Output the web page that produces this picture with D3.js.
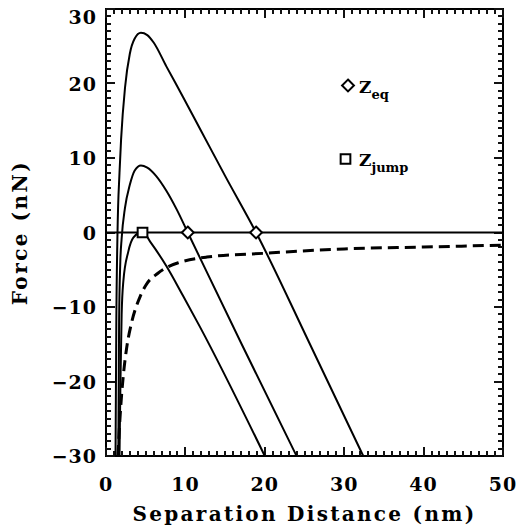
<!DOCTYPE html>
<html>
<head>
<meta charset="utf-8">
<script src="https://cdn.jsdelivr.net/npm/d3@7"></script>
</head>
<body style="margin:0">
<script>
// values (x in nm, force in nN)
const curveA = [[1.2,-30],[1.3,-12],[1.45,0],[1.7,8],[1.9,12.5],[2.4,19.5],[3.0,24],[3.6,26],[4.4,26.8],[5.2,26.5],[6.0,25.5],[7.6,22.3],[9.7,18.2],[12,13.6],[15,7.6],[18.9,0],[25.6,-14.8],[32.4,-30]];
const curveB = [[1.55,-30],[1.65,-12],[1.8,-4],[1.97,-0.8],[2.39,3.3],[3.0,6.4],[3.6,8.3],[4.4,9.0],[5.2,8.7],[6.3,7.6],[7.6,5.6],[8.9,3.1],[10.3,0],[17,-14.8],[24,-30]];
const curveC = [[1.7,-30],[1.82,-20],[1.97,-11],[2.18,-6.6],[2.8,-2.6],[3.44,-0.7],[4.6,0.1],[5.6,-1.3],[7.6,-4.5],[9.7,-8.5],[11.8,-12.6],[20,-30]];
const attraction = [[1.5,-30],[1.7,-26],[1.95,-22],[2.2,-19],[2.6,-15.5],[3.2,-12.2],[4.3,-8.6],[5.0,-7.1],[6.5,-5.5],[7.8,-4.6],[9.3,-4.0],[12.7,-3.3],[19.8,-2.8],[30,-2.2],[40,-1.95],[50,-1.7]];
const zeroLine = [[0,0],[50,0]];
const zEq = [10.3, 18.9];
const zJump = [4.6];
const xTicks = [0, 10, 20, 30, 40, 50];
const yTicks = [-30, -20, -10, 0, 10, 20, 30];

const W = 519, H = 527;
const m = { left: 106, right: 503, top: 9, bottom: 456 };
const FONT = "'DejaVu Serif', serif";

const svg = d3.select("body").append("svg")
  .attr("width", W).attr("height", H);

const x = d3.scaleLinear().domain([0, 50]).range([m.left, m.right]);
const y = d3.scaleLinear().domain([-30, 30]).range([m.bottom, m.top]);

// frame
svg.append("rect")
  .attr("x", m.left).attr("y", m.top)
  .attr("width", m.right - m.left).attr("height", m.bottom - m.top)
  .attr("fill", "none").attr("stroke", "#000").attr("stroke-width", 2);

// tick marks on all four sides, pointing inward, one path per side
const xMinor = d3.range(0, 51, 1);
const yMinor = d3.range(-30, 31, 1);
const tickLen = d => (Math.abs(d) % 10 === 0 ? 9 : 5);

function sideTicks(values, scale, edge, dir, vertical) {
  const p = d3.path();
  values.forEach(d => {
    const v = Math.round(scale(d));
    if (vertical) { p.moveTo(v, edge); p.lineTo(v, edge + dir * tickLen(d)); }
    else { p.moveTo(edge, v); p.lineTo(edge + dir * tickLen(d), v); }
  });
  return p.toString();
}

const tickSides = [
  sideTicks(xMinor, x, m.bottom, -1, true),
  sideTicks(xMinor, x, m.top, 1, true),
  sideTicks(yMinor, y, m.left, 1, false),
  sideTicks(yMinor, y, m.right, -1, false)
];
svg.append("g").selectAll("path").data(tickSides).join("path")
  .attr("d", d => d)
  .attr("fill", "none").attr("stroke", "#111").attr("stroke-width", 2);

// tick labels
const fmt = d => String(d).replace("-", "\u2212");
svg.append("g").selectAll("text").data(xTicks).join("text")
  .attr("x", d => x(d)).attr("y", 491)
  .attr("text-anchor", "middle")
  .attr("font-family", FONT).attr("font-weight", "bold")
  .attr("font-size", 19).attr("letter-spacing", 1)
  .text(fmt);

svg.append("g").selectAll("text").data(yTicks).join("text")
  .attr("x", 97).attr("y", d => (d === 30 ? y(d) + 15 : y(d) + 7))
  .attr("text-anchor", "end")
  .attr("font-family", FONT).attr("font-weight", "bold")
  .attr("font-size", 19).attr("letter-spacing", 1)
  .text(fmt);

const line = d3.line()
  .x(d => x(d[0])).y(d => y(d[1]))
  .curve(d3.curveMonotoneX);

svg.append("path").datum(zeroLine)
  .attr("d", line).attr("fill", "none")
  .attr("stroke", "#000").attr("stroke-width", 2);

[curveA, curveB, curveC].forEach(c => {
  svg.append("path").datum(c)
    .attr("d", line).attr("fill", "none")
    .attr("stroke", "#000").attr("stroke-width", 2);
});

svg.append("path").datum(attraction)
  .attr("d", line).attr("fill", "none")
  .attr("stroke", "#000").attr("stroke-width", 3)
  .attr("stroke-dasharray", "11,6");

// markers
const diamond = d3.symbol().type(d3.symbolDiamond2).size(90);
const square = d3.symbol().type(d3.symbolSquare2).size(120);

svg.append("g").selectAll("path").data(zEq).join("path")
  .attr("transform", d => `translate(${x(d)},${y(0)})`)
  .attr("d", diamond)
  .attr("fill", "#fff").attr("stroke", "#000").attr("stroke-width", 2);

svg.append("g").selectAll("path").data(zJump).join("path")
  .attr("transform", d => `translate(${x(d)},${y(0)})`)
  .attr("d", square)
  .attr("fill", "#fff").attr("stroke", "#000").attr("stroke-width", 2);

// legend
const legend = [
  { sym: diamond, sub: "eq", cx: 348, cy: 85.5 },
  { sym: square, sub: "jump", cx: 345.5, cy: 159 }
];
legend.forEach(l => {
  svg.append("path")
    .attr("transform", `translate(${l.cx},${l.cy})`)
    .attr("d", l.sym)
    .attr("fill", "#fff").attr("stroke", "#000").attr("stroke-width", 2);
  const t = svg.append("text")
    .attr("x", 359).attr("y", l.cy + 7)
    .attr("font-family", FONT).attr("font-weight", "bold")
    .attr("font-size", 17);
  t.append("tspan").text("Z");
  t.append("tspan").attr("dy", 6).attr("font-size", 13).text(l.sub);
});

// axis titles
svg.append("text")
  .attr("x", (m.left + m.right) / 2).attr("y", 521)
  .attr("text-anchor", "middle")
  .attr("font-family", FONT).attr("font-weight", "bold")
  .attr("font-size", 20).attr("letter-spacing", 2.3)
  .text("Separation Distance (nm)");

svg.append("text")
  .attr("transform", `translate(27,${(m.top + m.bottom) / 2}) rotate(-90)`)
  .attr("text-anchor", "middle")
  .attr("font-family", FONT).attr("font-weight", "bold")
  .attr("font-size", 20).attr("letter-spacing", 2.5)
  .text("Force (nN)");
</script>
</body>
</html>
